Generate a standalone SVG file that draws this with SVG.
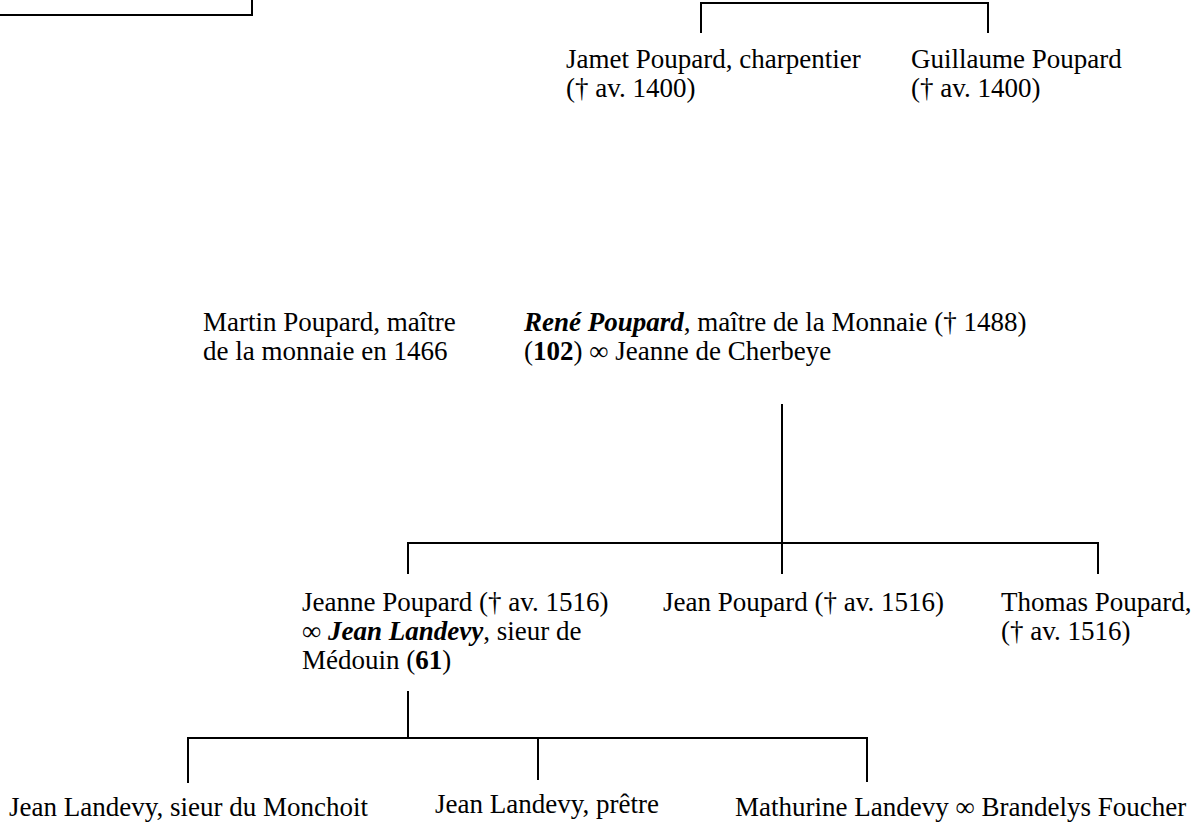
<svg xmlns="http://www.w3.org/2000/svg" width="1191" height="827" viewBox="0 0 1191 827">
<style>
text{font-family:"Liberation Serif","Times New Roman",serif;font-size:27px;fill:#000}
.bi{font-weight:bold;font-style:italic}
.b{font-weight:bold}
.c{stroke:#000;stroke-width:2;fill:none}
</style>
<rect width="1191" height="827" fill="#fff"/>
<g id="connectors">
<path class="c" d="M0 15H252V0"/>
<path class="c" d="M701 33V3H988V33"/>
<path class="c" d="M782 404V543"/>
<path class="c" d="M408 574V543H1098V574M782 543V574"/>
<path class="c" d="M408 691V738"/>
<path class="c" d="M188 783V738H867V782M538 738V780"/>
</g>
<g id="jamet"><text x="566" y="68">Jamet Poupard, charpentier</text><text x="566" y="97">(† av. 1400)</text></g>
<g id="guillaume"><text x="911" y="68">Guillaume Poupard</text><text x="911" y="97">(† av. 1400)</text></g>
<g id="martin"><text x="203" y="331">Martin Poupard, maître</text><text x="203" y="360">de la monnaie en 1466</text></g>
<g id="rene"><text x="524" y="331"><tspan class="bi">René Poupard</tspan>, maître de la Monnaie († 1488)</text><text x="524" y="360">(<tspan class="b">102</tspan>) ∞ Jeanne de Cherbeye</text></g>
<g id="jeanne"><text x="302" y="611">Jeanne Poupard († av. 1516)</text><text x="302" y="640">∞ <tspan class="bi">Jean Landevy</tspan>, sieur de</text><text x="302" y="669">Médouin (<tspan class="b">61</tspan>)</text></g>
<g id="jeanpoupard"><text x="663" y="611">Jean Poupard († av. 1516)</text></g>
<g id="thomas"><text x="1001" y="611">Thomas Poupard,</text><text x="1001" y="640">(† av. 1516)</text></g>
<g id="jeanmonchoit"><text x="9" y="816">Jean Landevy, sieur du Monchoit</text></g>
<g id="jeanpretre"><text x="435" y="813">Jean Landevy, prêtre</text></g>
<g id="mathurine"><text x="735" y="816">Mathurine Landevy ∞ Brandelys Foucher</text></g>
</svg>
